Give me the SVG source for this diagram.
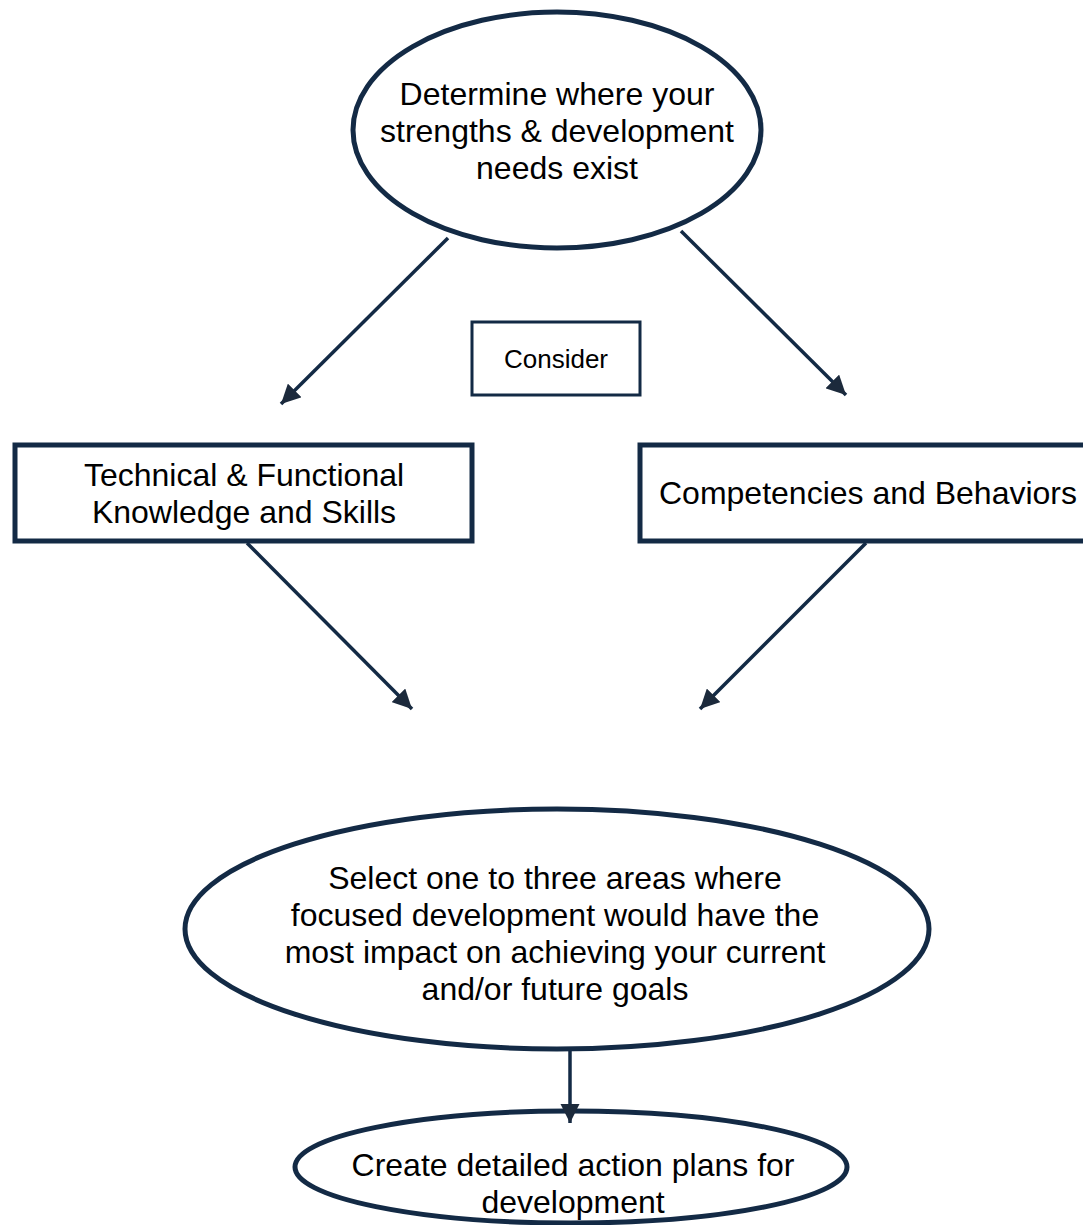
<svg xmlns="http://www.w3.org/2000/svg" width="1083" height="1225" viewBox="0 0 1083 1225">
<style>
.shape{fill:#fff;stroke:#132a45;stroke-width:5}
.box{fill:#fff;stroke:#132a45;stroke-width:3}
.conn{stroke:#132a45;stroke-width:3.5;fill:none}
text{font-family:"Liberation Sans",Arial,sans-serif;font-size:32px;fill:#000;text-anchor:middle}
.small{font-size:26px}
</style>
<defs>
<marker id="ah" viewBox="0 0 10 10" refX="10" refY="5" markerWidth="5.5" markerHeight="5.5" orient="auto" markerUnits="strokeWidth">
<path d="M0,0 L10,5 L0,10 z" fill="#1c2a3c"/>
</marker>
</defs>
<rect width="1083" height="1225" fill="#fff"/>
<g id="node-determine">
<ellipse class="shape" cx="557" cy="130" rx="204" ry="118"/>
<text x="557" y="105">Determine where your</text>
<text x="557" y="142">strengths &amp; development</text>
<text x="557" y="179">needs exist</text>
</g>
<g id="node-consider">
<rect class="box" x="472" y="322" width="168" height="73"/>
<text class="small" x="556" y="368">Consider</text>
</g>
<g id="node-technical">
<rect class="shape" x="15" y="445" width="457" height="96"/>
<text x="244" y="486">Technical &amp; Functional</text>
<text x="244" y="523">Knowledge and Skills</text>
</g>
<g id="node-competencies">
<rect class="shape" x="640" y="445" width="450" height="96"/>
<text x="868" y="504">Competencies and Behaviors</text>
</g>
<g id="node-select">
<ellipse class="shape" cx="557" cy="929" rx="372" ry="120"/>
<text x="555" y="889">Select one to three areas where</text>
<text x="555" y="926">focused development would have the</text>
<text x="555" y="963">most impact on achieving your current</text>
<text x="555" y="1000">and/or future goals</text>
</g>
<g id="node-create">
<ellipse class="shape" cx="571" cy="1167" rx="276" ry="56"/>
<text x="573" y="1176">Create detailed action plans for</text>
<text x="573" y="1213">development</text>
</g>
<g id="connectors">
<line class="conn" x1="448" y1="238" x2="281" y2="404" marker-end="url(#ah)"/>
<line class="conn" x1="681" y1="231" x2="846" y2="395" marker-end="url(#ah)"/>
<line class="conn" x1="247" y1="543" x2="412" y2="709" marker-end="url(#ah)"/>
<line class="conn" x1="866" y1="543" x2="700" y2="709" marker-end="url(#ah)"/>
<line class="conn" x1="570" y1="1051" x2="570" y2="1123" stroke-width="2.5" marker-end="url(#ah)"/>
</g>
</svg>
